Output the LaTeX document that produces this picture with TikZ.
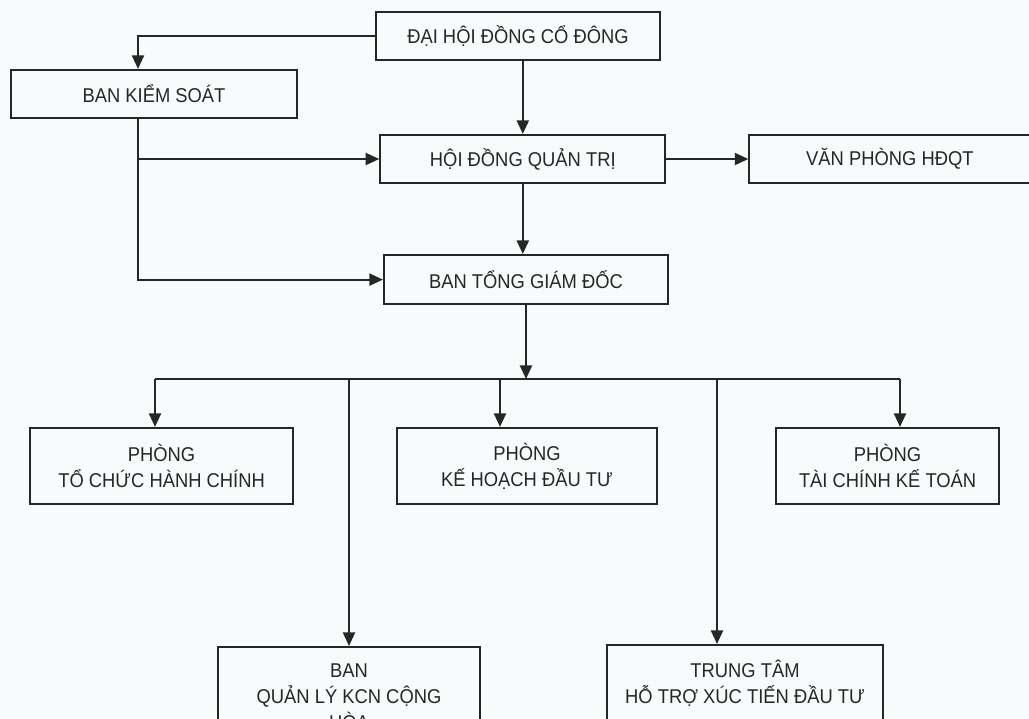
\documentclass[tikz,border=0pt]{standalone}
\usepackage{fontspec}
\setmainfont{Liberation Sans}[FakeStretch=0.92]
\usepackage{tikz}
\usetikzlibrary{arrows.meta,positioning}

\definecolor{paper}{RGB}{248,251,251}
\definecolor{ink}{RGB}{38,38,38}

\begin{document}
\begin{tikzpicture}[box/.style={draw=ink,line width=1.5pt,minimum height=1.2cm,align=center,text=ink,font=\fontsize{14.2}{18.4}\selectfont},
	link/.style={draw=ink,line width=1.5pt,-{Triangle[length=3.4mm,width=3mm]}},
	wire/.style={draw=ink,line width=1.5pt}]
	\useasboundingbox[fill=paper] (0,0) rectangle (25.725,-17.95);
	% top levels
	\node[box,minimum width=7.1cm] (dhcd) at (12.95,-0.9) {ĐẠI HỘI ĐỒNG CỔ ĐÔNG};
	\node[box,minimum width=7.15cm] (bks) at (3.85,-2.35) {BAN KIỂM SOÁT};
	\node[box,minimum width=7.125cm] (hdqt) at (13.07,-3.975) {HỘI ĐỒNG QUẢN TRỊ};
	\node[box,minimum width=7.025cm,right=2.05cm of hdqt] (vp) {VĂN PHÒNG HĐQT};
	\node[box,minimum width=7.1cm,minimum height=1.225cm] (btgd) at (13.15,-6.99) {BAN TỔNG GIÁM ĐỐC};
	% departments
	\node[box,minimum width=6.575cm,minimum height=1.9cm] (tchc) at (4.04,-11.65) {PHÒNG\\TỔ CHỨC HÀNH CHÍNH};
	\node[box,minimum width=6.5cm,minimum height=1.9cm] (khdt) at (13.175,-11.65) {PHÒNG\\KẾ HOẠCH ĐẦU TƯ};
	\node[box,minimum width=5.575cm,minimum height=1.9cm] (tckt) at (22.19,-11.65) {PHÒNG\\TÀI CHÍNH KẾ TOÁN};
	\node[box,minimum width=6.55cm,minimum height=2.5cm,anchor=north] (bql) at (8.725,-16.15) {BAN\\QUẢN LÝ KCN CỘNG\\HÒA};
	\node[box,minimum width=6.9cm,minimum height=2.5cm,anchor=north] (ttxt) at (18.625,-16.1) {TRUNG TÂM\\HỖ TRỢ XÚC TIẾN ĐẦU TƯ\\~};
	\coordinate (bus) at (13.2,-9.475);
	% arrows
	\draw[link] (dhcd.west) -| ([xshift=-4mm]bks.north);
	\draw[link] (dhcd.south -| hdqt.north) -- (hdqt.north);
	\draw[link] ([xshift=-4mm]bks.south) |- (hdqt.west);
	\draw[link] ([xshift=-4mm]bks.south) |- (btgd.west);
	\draw[link] (hdqt.east) -- (vp.west);
	\draw[link] (hdqt.south) -- (hdqt.south |- btgd.north);
	\draw[link] (btgd.south) -- (btgd.south |- bus);
	\draw[wire] ([xshift=-1.65mm]tchc.north |- bus) -- ([xshift=3.1mm]tckt.north |- bus);
	\draw[link] ([xshift=-1.65mm]tchc.north |- bus) -- ([xshift=-1.65mm]tchc.north);
	\draw[link] (bql.north |- bus) -- (bql.north);
	\draw[link] ([xshift=-6.75mm]khdt.north |- bus) -- ([xshift=-6.75mm]khdt.north);
	\draw[link] ([xshift=-7mm]ttxt.north |- bus) -- ([xshift=-7mm]ttxt.north);
	\draw[link] ([xshift=3.1mm]tckt.north |- bus) -- ([xshift=3.1mm]tckt.north);
\end{tikzpicture}
\end{document}
